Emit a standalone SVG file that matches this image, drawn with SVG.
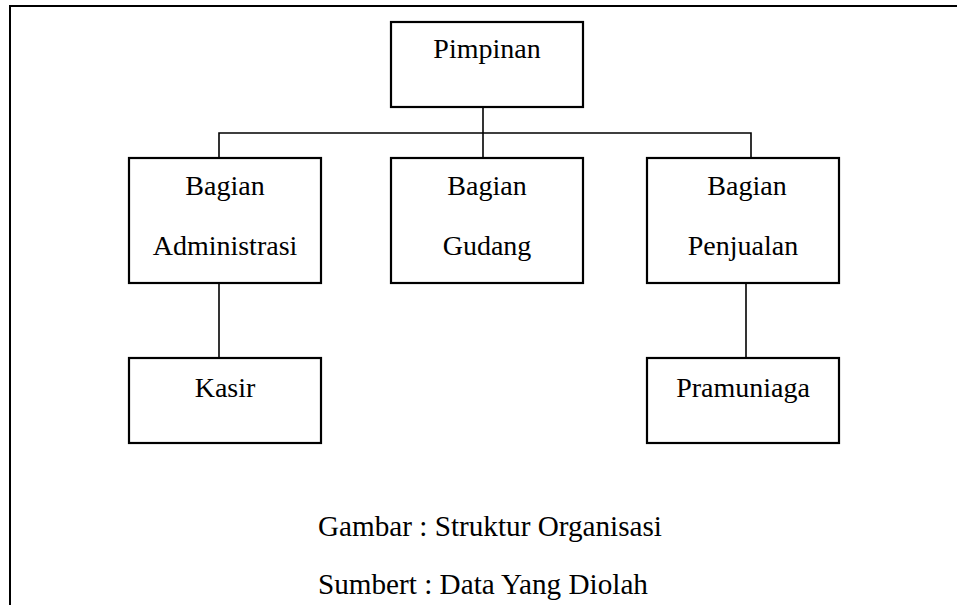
<svg xmlns="http://www.w3.org/2000/svg" width="957" height="605" viewBox="0 0 957 605">
  <style>
    .frame { fill: none; stroke: #000; stroke-width: 2; }
    .box { fill: #fff; stroke: #000; stroke-width: 2.2; }
    .link { fill: none; stroke: #000; stroke-width: 1.6; }
    text { font-family: 'Liberation Serif', 'DejaVu Serif', serif; font-size: 28px; fill: #000; }
    .label { text-anchor: middle; }
    .caption { font-size: 29.2px; }
  </style>
  <rect width="957" height="605" fill="#fff"/>
  <!-- page frame: open to the right and bottom -->
  <path class="frame" d="M10,605 V6 H957"/>

  <g id="connectors">
    <path class="link" d="M483,107 V158"/>
    <path class="link" d="M219,158 V133 H751 V158"/>
    <path class="link" d="M219,283 V358"/>
    <path class="link" d="M746,281 V358"/>
  </g>

  <g id="pimpinan">
    <rect class="box" x="391" y="22" width="192" height="85"/>
    <text class="label" x="487" y="58">Pimpinan</text>
  </g>
  <g id="bagian-administrasi">
    <rect class="box" x="129" y="158" width="192" height="125"/>
    <text class="label" x="225" y="195">Bagian</text>
    <text class="label" x="225" y="255">Administrasi</text>
  </g>
  <g id="bagian-gudang">
    <rect class="box" x="391" y="158" width="192" height="125"/>
    <text class="label" x="487" y="195">Bagian</text>
    <text class="label" x="487" y="255">Gudang</text>
  </g>
  <g id="bagian-penjualan">
    <rect class="box" x="647" y="158" width="192" height="125"/>
    <text class="label" x="747" y="195">Bagian</text>
    <text class="label" x="743" y="255">Penjualan</text>
  </g>
  <g id="kasir">
    <rect class="box" x="129" y="358" width="192" height="85"/>
    <text class="label" x="225" y="397">Kasir</text>
  </g>
  <g id="pramuniaga">
    <rect class="box" x="647" y="358" width="192" height="85"/>
    <text class="label" x="743" y="397">Pramuniaga</text>
  </g>

  <g id="caption">
    <text class="caption" x="318" y="536">Gambar : Struktur Organisasi</text>
    <text class="caption" x="318" y="594">Sumbert : Data Yang Diolah</text>
  </g>
</svg>
